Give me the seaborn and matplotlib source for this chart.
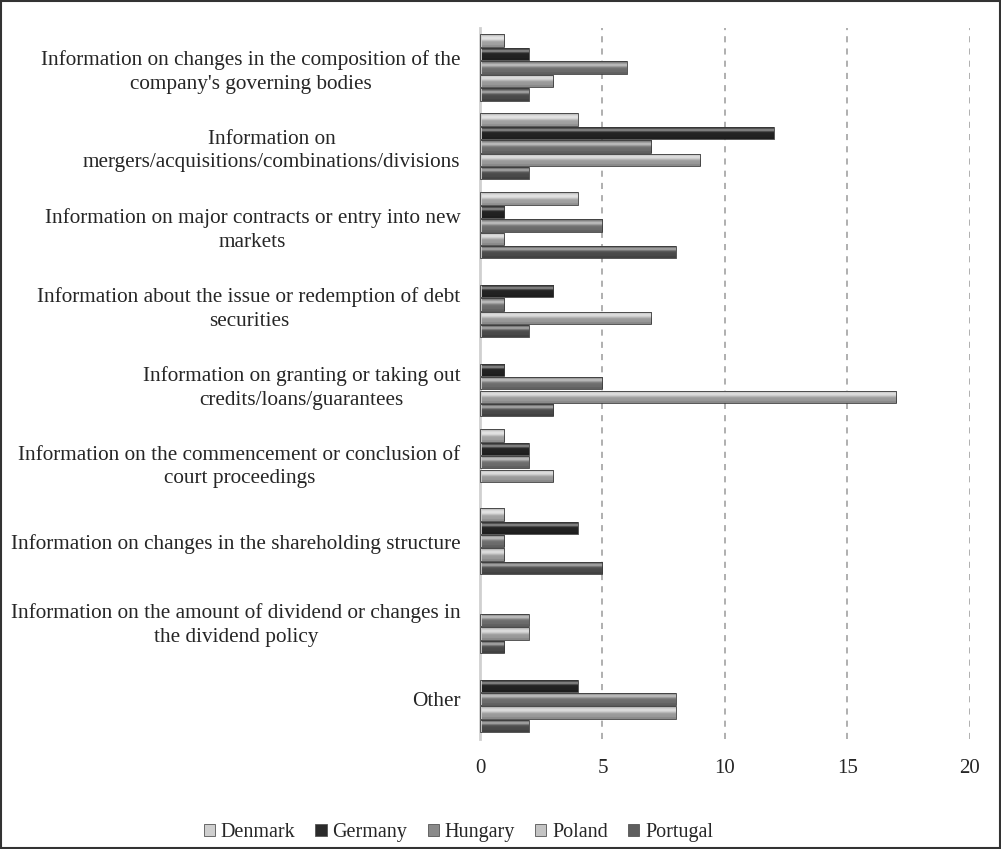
import numpy as np
import pandas as pd
import matplotlib
matplotlib.use("Agg")
import matplotlib.pyplot as plt
from matplotlib.patches import Patch, Rectangle
import seaborn as sns

categories = [
    "Information on changes in the composition of the\ncompany's governing bodies",
    "Information on\nmergers/acquisitions/combinations/divisions",
    "Information on major contracts or entry into new\nmarkets",
    "Information about the issue or redemption of debt\nsecurities",
    "Information on granting or taking out\ncredits/loans/guarantees",
    "Information on the commencement or conclusion of\ncourt proceedings",
    "Information on changes in the shareholding structure",
    "Information on the amount of dividend or changes in\nthe dividend policy",
    "Other",
]
countries = ["Denmark", "Germany", "Hungary", "Poland", "Portugal"]

denmark = [1, 4, 4, 0, 0, 1, 1, 0, 0]
germany = [2, 12, 1, 3, 1, 2, 4, 0, 4]
hungary = [6, 7, 5, 1, 5, 2, 1, 2, 8]
poland = [3, 9, 1, 7, 17, 3, 1, 2, 8]
portugal = [2, 2, 8, 2, 3, 0, 5, 1, 2]

colors = ["#cfcfcf", "#2b2b2b", "#8a8a8a", "#c4c4c4", "#5e5e5e"]

rows = []
for country, vals in zip(countries, [denmark, germany, hungary, poland, portugal]):
    for cat, v in zip(categories, vals):
        rows.append({"category": cat, "country": country, "value": v})
df = pd.DataFrame(rows)

sns.set_style("white")
plt.rcParams["font.family"] = ["Liberation Serif", "DejaVu Serif"]

fig = plt.figure(figsize=(10.01, 8.49), dpi=100)
ax = fig.add_axes([0.4795, 0.13, 0.4895, 0.837])

sns.barplot(
    data=df, x="value", y="category", hue="country", orient="h",
    order=categories, hue_order=countries, palette=colors,
    width=0.85, gap=0.08, legend=False, ax=ax, saturation=1,
)

# bevelled look: vertical shading inside each bar
def shade(base, n=40):
    rgb = np.array(matplotlib.colors.to_rgb(base))
    t = np.linspace(0, 1, n)
    prof = 0.78 + 0.5 * np.exp(-((t - 0.3) / 0.18) ** 2)
    prof[t > 0.85] = 0.7
    img = np.clip(rgb[None, :] * prof[:, None], 0, 1)
    img = np.where(prof[:, None] > 1.0, np.clip(rgb + (1 - rgb) * (prof[:, None] - 1) * 1.6, 0, 1), img)
    return img[:, None, :]

n_cat = len(categories)
for i, p in enumerate(ax.patches):
    w = p.get_width()
    if w <= 0:
        continue
    base = colors[i // n_cat]
    x0, y0, h = p.get_x(), p.get_y(), p.get_height()
    im = ax.imshow(shade(base), extent=[x0, x0 + w, y0 + h, y0], aspect="auto",
                   interpolation="bilinear", zorder=2)
    im.set_clip_path(p)
    p.set_edgecolor("#3a3a3a")
    p.set_linewidth(0.6)
    p.set_zorder(3)
    p.set_facecolor("none")

ax.set_xlim(0, 20)
ax.set_ylim(n_cat - 0.5, -0.5)
ax.set_xticks([0, 5, 10, 15, 20])
ax.set_xlabel("")
ax.set_ylabel("")
ax.grid(axis="x", color="#9a9a9a", linestyle=(0, (4, 4)), linewidth=1.1)
ax.set_axisbelow(True)
for s in ["top", "right", "bottom"]:
    ax.spines[s].set_visible(False)
ax.spines["left"].set_color("#d0d0d0")
ax.spines["left"].set_linewidth(2)
ax.tick_params(axis="x", length=0, pad=15, labelsize=15)
ax.tick_params(axis="y", length=0, pad=14, labelsize=15.3)
for lbl in ax.get_yticklabels():
    lbl.set_multialignment("center")
    lbl.set_linespacing(1.32)

handles = [Patch(facecolor=c, edgecolor="#555555", linewidth=0.6) for c in colors]
fig.legend(handles, countries, loc="center", bbox_to_anchor=(0.458, 0.019), ncol=5,
           frameon=False, fontsize=14.5, handlelength=0.55, handleheight=0.55,
           handletextpad=0.3, columnspacing=1.0)

fig.patches.append(Rectangle((0.001, 0.001), 0.998, 0.998, transform=fig.transFigure,
                             fill=False, edgecolor="#333333", linewidth=1.5))

fig.savefig("out.png", dpi=100)
